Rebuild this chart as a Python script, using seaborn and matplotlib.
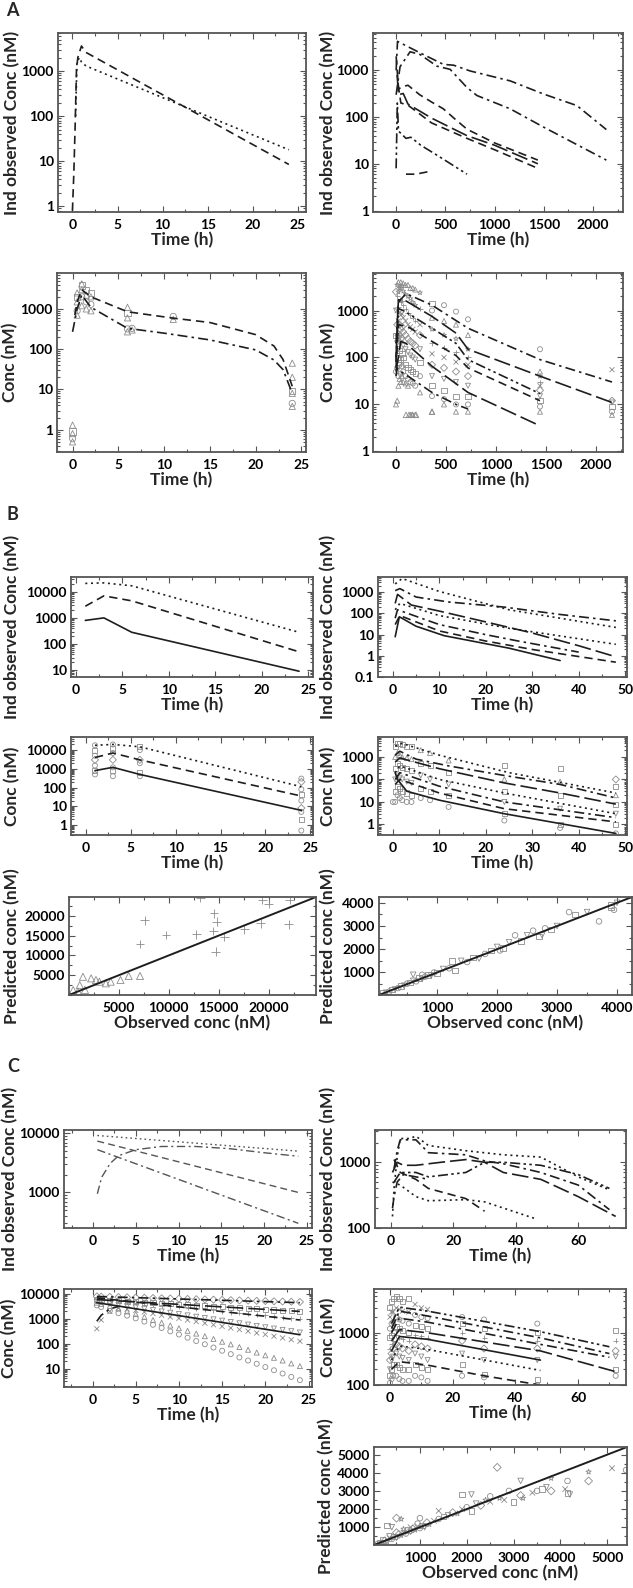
import warnings
import matplotlib
matplotlib.use("Agg")
import matplotlib.pyplot as plt
import matplotlib.ticker as mticker
from matplotlib.markers import MarkerStyle
import pandas as pd
import seaborn as sns

warnings.filterwarnings("ignore")

# ---------------- data ----------------
# Panel A, row 1: individual observed profiles
A1_LINES = [
    ([0, 0.15, 0.3, 0.45, 0.6, 1.0, 1.5, 24], [0.8, 5, 60, 1100, 2000, 3600, 2600, 8.5]),
    ([0.35, 0.5, 0.75, 1.0, 1.5, 24], [100, 1500, 2000, 1600, 1300, 18]),
]
A1_STYLES = ["dash", "dot"]

A2_LINES = [
    ([0, 14, 244, 481, 583, 752, 1159, 1498, 1837, 2136], [1000, 4170, 2360, 1340, 1290, 970, 595, 311, 176, 54]),
    ([0, 40, 142, 244, 414, 549, 719, 820, 1159, 1498, 2136], [300, 1200, 2500, 2180, 1230, 1050, 430, 290, 150, 61, 12]),
    ([0, 5, 24, 72, 120, 240, 360, 480, 600, 720, 1000, 1440], [2000, 1500, 400, 450, 480, 300, 210, 150, 90, 55, 28, 12]),
    ([10, 24, 72, 120, 360, 720, 1000, 1440], [800, 300, 320, 190, 95, 40, 25, 10]),
    ([20, 48, 120, 360, 720, 1000, 1440], [500, 200, 180, 75, 35, 20, 8]),
    ([0, 12, 24, 48, 100, 150, 250, 400, 720], [8, 200, 50, 45, 35, 37, 25, 16, 6]),
    ([100, 200, 360], [6, 6, 7]),
]
A2_STYLES = ["dashdot", "dashdot", "dash", "longdash", "dash", "dashdotdot", "dash"]

# Panel A, row 2: population fits with observations
A3_LINES = [
    ([0.25, 0.5, 1, 2, 6, 11, 15, 20, 22, 23, 24], [700, 1500, 3000, 2000, 850, 590, 460, 230, 120, 55, 12]),
    ([0, 0.5, 1, 2, 6, 10, 15, 20, 22, 23, 24], [270, 1000, 2200, 1100, 330, 250, 170, 96, 54, 31, 8]),
]
A3_STYLES = ["dash", "dashdot"]
A3_OBS = {
    0: [0.5, 0.6, 0.8, 0.9, 1.3],
    0.5: [700, 900, 1500, 2000, 2500],
    1: [1200, 2000, 3000, 3800, 4200],
    1.5: [1000, 1500, 2200, 3000],
    2: [900, 1300, 2000, 2500],
    6: [270, 320, 600, 800, 1100],
    6.5: [300, 330],
    11: [550, 650],
    24: [3.8, 4.5, 8, 9, 20, 45],
}

A4_LINES = [
    ([0, 24, 100, 360, 720, 1440, 2160], [200, 1500, 2300, 1300, 420, 90, 30]),
    ([0, 24, 100, 360, 600, 720, 1440, 2160], [100, 1700, 1600, 750, 330, 150, 40, 11]),
    ([0, 24, 72, 360, 600, 720, 1440], [80, 1100, 1000, 420, 200, 90, 17]),
    ([0, 24, 120, 360, 600, 720, 1440], [60, 500, 450, 220, 110, 60, 12]),
    ([0, 48, 100, 360, 720, 1440], [50, 220, 200, 65, 18, 3.5]),
    ([0, 12, 48, 120, 360, 600, 720], [40, 60, 50, 40, 18, 10, 8]),
]
A4_STYLES = ["dashdot", "longdash", "dashdotdot", "dash", "longdash", "dashdot"]
A4_OBS = {
    0: [10, 50, 300, 1000, 2500],
    12: [12, 60, 100, 200, 500, 1000, 2000, 3500],
    24: [25, 40, 80, 150, 300, 600, 1200, 2500, 4000],
    36: [35, 70, 140, 260, 500, 900, 1700, 3000],
    48: [30, 45, 90, 200, 400, 800, 1500, 3000, 4000],
    60: [40, 65, 120, 240, 450, 850, 1600, 3300],
    72: [30, 50, 100, 180, 350, 700, 1300, 2600, 3800],
    96: [28, 40, 70, 150, 300, 600, 1100, 2200, 3500],
    120: [25, 35, 60, 130, 250, 500, 900, 2000, 3500],
    144: [6, 30, 55, 110, 220, 450, 800, 1800, 3000],
    168: [6, 28, 50, 100, 200, 400, 700, 1500, 3000],
    192: [6, 25, 45, 90, 180, 350, 600, 1300, 2800],
    240: [18, 40, 80, 150, 300, 500, 1100, 2400],
    360: [7, 15, 25, 40, 70, 120, 200, 400, 700, 1000, 1400],
    480: [10, 13, 20, 35, 60, 100, 160, 300, 600, 1300],
    600: [7, 10, 15, 30, 50, 80, 130, 250, 500, 950],
    720: [7, 10, 15, 25, 40, 70, 100, 150, 300, 650],
    1440: [7, 9, 12, 15, 20, 25, 30, 40, 50, 150],
    2160: [6, 7, 9, 11, 12, 55],
}

# Panel B
B1_LINES = [
    ([1, 3, 6, 24], [21000, 22000, 17000, 280]),
    ([1, 3, 6, 24], [2800, 7000, 4500, 50]),
    ([1, 3, 6, 24], [800, 1000, 280, 9]),
]
B1_STYLES = ["dot", "dash", "solid"]

B2_LINES = [
    ([0.5, 2, 10, 25, 48], [2500, 4500, 1100, 150, 22]),
    ([0.5, 1.5, 5, 12, 24, 36, 48], [1200, 1500, 600, 350, 200, 90, 45]),
    ([0.5, 1, 4, 10, 20, 30, 40, 48], [300, 800, 250, 130, 40, 12, 3, 0.9]),
    ([0.5, 1.5, 10, 25, 48], [150, 300, 80, 20, 3.5]),
    ([0.5, 1, 10, 20, 27, 40], [60, 150, 30, 10, 5, 1.5]),
    ([0.5, 1.5, 10, 20, 30, 48], [30, 80, 15, 5, 2, 0.5]),
    ([0.5, 1.4, 5, 11, 25, 36], [8, 70, 25, 9, 2.3, 0.6]),
]
B2_STYLES = ["dot", "dashdot", "longdash", "dot", "dashdot", "dash", "solid"]

B3_LINES = [
    ([1, 3, 6, 24], [18000, 20000, 15000, 110]),
    ([1, 3, 6, 24], [4000, 7000, 3000, 35]),
    ([1, 3, 6, 24], [800, 1200, 500, 6]),
]
B3_STYLES = ["dot", "dash", "solid"]
B3_OBS = {
    1: [500, 800, 1500, 3000, 5000, 10000, 18000],
    3: [400, 800, 1200, 3000, 7000, 12000, 20000],
    6: [400, 600, 2000, 3000, 10000, 15000],
    24: [0.5, 2, 5, 8, 20, 40, 80, 200, 300],
}

B4_LINES = [
    ([0.5, 2, 10, 25, 48], [3000, 4000, 1200, 200, 25]),
    ([0.5, 1.5, 5, 12, 24, 36, 48], [1200, 1800, 800, 400, 150, 60, 15]),
    ([0.5, 1.5, 10, 24, 36, 48], [600, 900, 300, 70, 25, 8]),
    ([0.5, 1.5, 10, 24, 48], [200, 400, 100, 25, 3]),
    ([0.5, 1.5, 10, 24, 48], [100, 200, 50, 10, 2]),
    ([0.5, 1.5, 10, 24, 48], [60, 100, 25, 5, 1.3]),
    ([0.5, 1, 3, 10, 24, 48], [200, 100, 30, 12, 3, 0.4]),
]
B4_STYLES = ["dot", "dashdot", "longdash", "dot", "dashdot", "dash", "solid"]
B4_OBS = {
    0: [10],
    0.5: [10, 30, 100, 300, 1000, 3000],
    1: [20, 50, 150, 500, 1500, 4000],
    1.5: [15, 40, 120, 400, 1200, 4000],
    2: [12, 30, 100, 350, 1000, 3500],
    3: [10, 25, 80, 300, 900, 3000],
    4: [10, 20, 70, 250, 800, 3000],
    6: [15, 40, 150, 500, 2000],
    8: [12, 30, 100, 400, 1500],
    12: [6, 20, 60, 200, 700],
    24: [1.5, 3, 10, 30, 100, 400],
    36: [0.7, 1, 5, 20, 80, 300],
    48: [0.4, 1, 3, 8, 20, 50, 100],
}

B5_OBS_PLUS = [7600, 7120, 9730, 12770, 14530, 14800, 14470, 14700, 15550, 17570, 19200, 19370, 20000, 22000, 22100, 13160]
B5_PRED_PLUS = [18900, 12870, 15150, 15300, 20600, 18500, 16150, 10900, 14700, 16550, 18060, 24000, 23100, 17900, 24000, 24500]
B5_OBS_TRI = [1400, 2700, 4180, 5160, 5980, 7120, 1080, 420, 3040, 3700, 2220, 900, 1600]
B5_PRED_TRI = [4600, 3800, 3360, 3800, 4800, 4800, 2500, 1260, 3360, 2950, 4200, 900, 1300]
B5_IDENTITY = [0, 24750]

B6_OBS = [100, 150, 200, 250, 300, 350, 400, 450, 500, 550, 600, 650, 700, 750, 800, 850, 900, 950, 1000, 1100,
          1200, 1300, 1400, 1500, 1600, 1700, 1800, 1900, 2000, 2050, 2100, 2200, 2300, 2400, 2500, 2600, 2700,
          2750, 2800, 2900, 3000, 3200, 3300, 3500, 3700, 3900, 4000, 3950, 3900, 600, 750, 1250]
B6_PRED = [120, 130, 180, 260, 270, 330, 420, 430, 520, 560, 640, 620, 760, 720, 820, 900, 870, 1000, 980, 1150,
           1180, 1080, 1500, 1450, 1650, 1600, 1800, 1950, 2100, 1950, 2050, 2300, 2600, 2350, 2600, 2800, 2550,
           2600, 2900, 2850, 3000, 3600, 3500, 3600, 3200, 3900, 4000, 3700, 3800, 900, 900, 1500]
B6_IDENTITY = [30, 4250]

# Panel C
C1_LINES = [
    ([0.5, 24], [9200, 5000]),
    ([0.5, 1, 2, 3, 5, 8, 12, 16, 20, 24], [950, 1800, 3100, 4200, 5300, 6000, 6000, 5500, 4700, 4100]),
    ([0.5, 24], [7400, 1000]),
    ([0.5, 24], [5300, 300]),
]
C1_STYLES = ["dot", "dashdot", "dash", "dashdot"]

C2_LINES = [
    ([0.5, 1, 2, 3, 6, 8, 12, 24, 36, 48, 60, 70], [150, 400, 1200, 2300, 2300, 2500, 1800, 1500, 1300, 1200, 600, 380]),
    ([1, 2, 3, 8, 12, 24, 30, 36, 48, 60, 70], [800, 1500, 2200, 2200, 1400, 1300, 1050, 950, 700, 450, 190]),
    ([0.5, 2, 4, 8, 16, 24, 30, 36, 48, 60, 72], [700, 1000, 900, 900, 1000, 1100, 1000, 700, 550, 300, 150]),
    ([1, 3, 8, 12, 24, 30, 36, 48, 60, 70], [500, 700, 700, 600, 700, 1000, 1000, 900, 650, 400]),
    ([1, 3, 8, 12, 24, 30], [1100, 700, 550, 400, 280, 180]),
    ([0.5, 3, 8, 12, 24, 30, 46], [500, 450, 300, 260, 270, 250, 140]),
    ([0.5, 1, 2, 4, 8, 12], [200, 300, 500, 650, 600, 550]),
]
C2_STYLES = ["dot", "dashdot", "longdash", "dashdotdot", "dash", "dot", "dashdot"]

C3_T = [0.5, 1, 2, 3, 4, 5, 6, 7, 8, 9, 10, 11, 12, 13, 14, 15, 16, 17, 18, 19, 20, 21, 22, 23, 24]
C3_CIRCLE = [3500, 3000, 2100, 1700, 1350, 1050, 780, 580, 430, 315, 235, 175, 128, 95, 70, 52, 38, 28, 21, 15.5, 11.5, 8.5, 6.3, 4.6, 3.4]
C3_TRIANGLE = [4500, 4000, 3300, 2600, 2000, 1550, 1200, 900, 700, 540, 420, 330, 255, 200, 155, 120, 94, 73, 57, 44, 34, 27, 21, 16, 12.5]
C3_CROSS = [400, 900, 2000, 2700, 2500, 2200, 1900, 1650, 1400, 1200, 1050, 900, 780, 670, 580, 500, 430, 370, 320, 270, 235, 200, 170, 145, 125]
C3_DIAMOND = [8000, 7900, 7730, 7560, 7400, 7240, 7090, 6930, 6780, 6640, 6500, 6360, 6220, 6090, 5960, 5830, 5700, 5580, 5460, 5340, 5230, 5120, 5010, 4900, 4800]
C3_SQUARE = [6000, 5860, 5590, 5330, 5090, 4850, 4630, 4420, 4210, 4020, 3830, 3660, 3490, 3330, 3170, 3030, 2890, 2760, 2630, 2510, 2390, 2280, 2180, 2080, 1990]
C3_PLUS = [6500, 6250, 5770, 5320, 4910, 4540, 4190, 3870, 3570, 3290, 3040, 2810, 2590, 2390, 2210, 2040, 1880, 1740, 1600, 1480, 1370, 1260, 1160, 1075, 990]
C3_VEE = [5000, 4700, 4160, 3680, 3260, 2880, 2550, 2260, 2000, 1770, 1565, 1385, 1225, 1085, 960, 850, 750, 665, 590, 520, 460, 408, 361, 320, 283]
C3_LINES = [
    ([0.5, 24], [4500, 230]),
    ([0.5, 24], [7000, 900]),
    ([0.5, 24], [8000, 4500]),
    ([0.5, 1, 2, 3], [800, 1400, 2500, 3200]),
    ([0.5, 24], [6000, 2000]),
]
C3_STYLES = ["solid", "dash", "dashdot", "dashdot", "longdash"]

C4_LINES = [
    ([0.5, 3, 12, 48, 70], [1500, 3100, 2600, 1050, 540]),
    ([0.5, 3, 12, 48, 70], [1200, 2600, 2100, 800, 400]),
    ([0.5, 3, 12, 48, 70], [1000, 1900, 1600, 600, 340]),
    ([0.5, 3, 12, 48, 72], [700, 1150, 1000, 450, 180]),
    ([0.5, 3, 12, 48], [450, 850, 750, 300]),
    ([0.5, 3, 12, 48], [300, 560, 480, 190]),
    ([0.5, 3, 12, 30, 48], [200, 280, 240, 150, 100]),
]
C4_STYLES = ["dashdotdot", "dashdot", "dashdot", "longdash", "solid", "dot", "dash"]
C4_OBS = {
    0: [110, 150, 200, 300, 500, 800, 1200, 2000, 3000],
    0.5: [130, 200, 300, 400, 600, 900, 1500, 2500, 4000],
    1: [150, 250, 350, 500, 700, 1000, 1600, 2500, 4500],
    2: [150, 250, 400, 600, 900, 1300, 2000, 3000, 5000],
    3: [130, 220, 350, 550, 800, 1200, 1800, 2800, 4500],
    4: [120, 200, 330, 500, 750, 1100, 1700, 2600, 4000],
    6: [120, 200, 300, 450, 700, 1000, 1500, 2500, 4500],
    8: [150, 250, 400, 600, 900, 1400, 2200, 3500],
    10: [140, 220, 350, 550, 850, 1300, 2000, 3000],
    12: [120, 200, 300, 500, 800, 1200, 1900, 2800],
    23: [150, 250, 400, 700, 1000, 1500, 2000],
    30: [140, 160, 300, 500, 800, 1200, 1800],
    47: [100, 130, 300, 500, 700, 1000, 1500],
    72: [150, 200, 350, 450, 700, 1100],
}

C5_OBS = [100, 150, 200, 250, 300, 350, 400, 450, 500, 550, 600, 650, 700, 750, 800, 850, 900, 950, 1000, 1050,
          1100, 1150, 1200, 1300, 1400, 1500, 1600, 1700, 1800, 1900, 2000, 2100, 2200, 2300, 2400, 2500, 2500,
          300, 400, 500, 600, 1400, 1000, 1900, 2100, 2650, 2700, 2800, 2900, 3000, 3150, 3150, 3200, 3400, 3500,
          3600, 3700, 3800, 3800, 4100, 4150, 4150, 4200, 4600, 4600, 5100, 5400, 200, 350, 500, 650, 800, 950]
C5_PRED = [80, 150, 120, 250, 200, 400, 350, 500, 420, 600, 550, 700, 650, 850, 750, 900, 850, 1050, 950, 1100,
           1000, 1250, 1150, 1350, 1450, 1600, 1650, 1800, 1750, 2000, 2100, 1900, 2300, 2200, 2500, 2400, 2700,
           1100, 1000, 1500, 1450, 1900, 1500, 2800, 2800, 4300, 2600, 2500, 3000, 2400, 3550, 2750, 2600, 2900, 3000,
           3100, 3200, 3000, 3700, 3100, 3550, 2900, 2800, 3550, 4050, 4250, 4150, 300, 500, 700, 900, 1000, 1200]
C5_IDENTITY = [20, 5420]

# ---------------- styling ----------------
sns.set_style("ticks")
plt.rcParams["font.family"] = ["Lato", "DejaVu Sans"]
plt.rcParams["font.weight"] = "bold"
plt.rcParams["axes.labelweight"] = "bold"

LS = {
    "solid": "-",
    "dash": (0, (5, 3)),
    "dot": (0, (1.2, 2.2)),
    "dashdot": (0, (6, 2.5, 1.5, 2.5)),
    "dashdotdot": (0, (6, 2, 1.5, 2, 1.5, 2)),
    "longdash": (0, (10, 3)),
}
LINE_COLOR = "#1e1e1e"
GRAY = "#8c8c8c"
FRAME = "#555555"
MARKERS = ["^", "o", "s", "v", "D", "x", "+", "*"]
TICK_SIZE = 10
LABEL_SIZE = 12.5

W, H = 633, 1588
fig = plt.figure(figsize=(W / 100, H / 100), dpi=100)


def new_ax(l, r, t, b):
    return fig.add_axes([l / W, 1 - b / H, (r - l) / W, (b - t) / H])


def draw_lines(ax, lines, styles, color=LINE_COLOR, lw=1.2):
    for (t, c), st in zip(lines, styles):
        sns.lineplot(x=t, y=c, ax=ax, color=color, lw=lw, linestyle=LS[st],
                     sort=False, estimator=None)


def draw_obs(ax, groups, markers=MARKERS, size=13):
    rows = []
    for t, vals in groups.items():
        for i, v in enumerate(vals):
            rows.append((t, v, markers[i % len(markers)]))
    df = pd.DataFrame(rows, columns=["t", "c", "m"])
    for m, sub in df.groupby("m"):
        sns.scatterplot(data=sub, x="t", y="c", ax=ax, color=GRAY, s=size, linewidth=0.6,
                        marker=MarkerStyle(m, fillstyle="none"))


def draw_points(ax, x, y, marker, size=16):
    sns.scatterplot(x=x, y=y, ax=ax, color=GRAY, s=size, linewidth=0.6,
                    marker=MarkerStyle(marker, fillstyle="none"))


def finish(ax, xlim, ylim, xticks, yticks, xlabel, ylabel, label_x, ylog=True):
    if ylog:
        ax.set_yscale("log")
    ax.set_xlim(xlim)
    ax.set_ylim(ylim)
    ax.set_xticks(xticks)
    ax.set_xticklabels([f"{v:g}" for v in xticks])
    ax.set_yticks(yticks)
    ax.set_yticklabels([f"{v:g}" for v in yticks])
    if ylog:
        ax.yaxis.set_minor_locator(mticker.LogLocator(base=10, subs=range(2, 10), numticks=20))
    else:
        ax.yaxis.set_minor_locator(mticker.AutoMinorLocator(2))
    ax.yaxis.set_minor_formatter(mticker.NullFormatter())
    ax.xaxis.set_minor_locator(mticker.AutoMinorLocator(2))
    ax.tick_params(which="both", direction="in", top=True, right=True, colors=FRAME,
                   labelcolor="black", labelsize=TICK_SIZE, width=0.8)
    ax.tick_params(which="major", length=4, pad=3)
    ax.tick_params(axis="x", which="major", pad=5)
    ax.tick_params(which="minor", length=2)
    for lab in ax.get_xticklabels() + ax.get_yticklabels():
        lab.set_fontweight("bold")
    for sp in ax.spines.values():
        sp.set_color(FRAME)
        sp.set_linewidth(1.3)
    ax.set_xlabel(xlabel, fontsize=LABEL_SIZE, fontweight="bold", labelpad=1)
    ax.set_ylabel(ylabel, fontsize=LABEL_SIZE, fontweight="bold")
    # y label placed at a fixed pixel column (right edge of the rotated text)
    pos = ax.get_position()
    left_px, width_px = pos.x0 * W, pos.width * W
    ax.yaxis.set_label_coords((label_x - left_px) / width_px, 0.5)


IND = "Ind observed Conc (nM)"
CONC = "Conc (nM)"
TIME = "Time (h)"
PRED = "Predicted conc (nM)"
OBS = "Observed conc (nM)"
LX_LEFT = 20
LX_RIGHT = 336

# ---------------- Panel A ----------------
ax = new_ax(58, 306, 33, 212)
ax.set_yscale("log")
draw_lines(ax, A1_LINES, A1_STYLES)
finish(ax, (-1.6, 25.9), (0.75, 7000), [0, 5, 10, 15, 20, 25], [1, 10, 100, 1000], TIME, IND, LX_LEFT)

ax = new_ax(373, 623, 33, 212)
ax.set_yscale("log")
draw_lines(ax, A2_LINES, A2_STYLES)
finish(ax, (-235, 2305), (0.93, 6300), [0, 500, 1000, 1500, 2000], [1, 10, 100, 1000], TIME, IND, LX_RIGHT)

ax = new_ax(57, 306, 273, 452)
ax.set_yscale("log")
draw_obs(ax, A3_OBS, markers=["^", "o", "^", "s", "^"], size=20)
draw_lines(ax, A3_LINES, A3_STYLES)
finish(ax, (-1.7, 25.5), (0.28, 7800), [0, 5, 10, 15, 20, 25], [1, 10, 100, 1000], TIME, CONC, LX_LEFT - 2)

ax = new_ax(373, 623, 273, 452)
ax.set_yscale("log")
draw_obs(ax, A4_OBS)
draw_points(ax, [100, 130, 160, 200, 360], [6, 6, 6, 6, 7], "^")
draw_lines(ax, A4_LINES, A4_STYLES)
finish(ax, (-230, 2270), (0.97, 6300), [0, 500, 1000, 1500, 2000], [1, 10, 100, 1000], TIME, CONC, LX_RIGHT)

# ---------------- Panel B ----------------
ax = new_ax(71, 313, 577, 677)
ax.set_yscale("log")
draw_lines(ax, B1_LINES, B1_STYLES)
finish(ax, (-0.54, 25.5), (5.4, 37000), [0, 5, 10, 15, 20, 25], [10, 100, 1000, 10000], TIME, IND, LX_LEFT)

ax = new_ax(378, 627, 577, 677)
ax.set_yscale("log")
draw_lines(ax, B2_LINES, B2_STYLES)
finish(ax, (-3.2, 50.4), (0.1, 5300), [0, 10, 20, 30, 40, 50], [0.1, 1, 10, 100, 1000], TIME, IND, LX_RIGHT)

ax = new_ax(71, 313, 737, 835)
ax.set_yscale("log")
draw_obs(ax, B3_OBS, markers=["o", "s", "o", "D"])
draw_lines(ax, B3_LINES, B3_STYLES)
finish(ax, (-1.67, 25.3), (0.29, 50000), [0, 5, 10, 15, 20, 25], [1, 10, 100, 1000, 10000], TIME, CONC, LX_LEFT)

ax = new_ax(378, 627, 737, 835)
ax.set_yscale("log")
draw_obs(ax, B4_OBS, markers=["o", "s", "v", "s", "^", "s", "D"])
draw_lines(ax, B4_LINES, B4_STYLES)
finish(ax, (-3.2, 50.4), (0.34, 7700), [0, 10, 20, 30, 40, 50], [1, 10, 100, 1000], TIME, CONC, LX_RIGHT)

ax = new_ax(69, 316, 897, 995)
draw_points(ax, B5_OBS_PLUS, B5_PRED_PLUS, "+", size=40)
draw_points(ax, B5_OBS_TRI, B5_PRED_TRI, "^", size=26)
sns.lineplot(x=B5_IDENTITY, y=B5_IDENTITY, ax=ax, color=LINE_COLOR, lw=1.4)
finish(ax, tuple(B5_IDENTITY), tuple(B5_IDENTITY), [5000, 10000, 15000, 20000],
       [5000, 10000, 15000, 20000], OBS, PRED, LX_LEFT, ylog=False)

ax = new_ax(379, 632, 897, 995)
draw_points(ax, B6_OBS[0::3], B6_PRED[0::3], "s")
draw_points(ax, B6_OBS[1::3], B6_PRED[1::3], "v")
draw_points(ax, B6_OBS[2::3], B6_PRED[2::3], "o")
sns.lineplot(x=B6_IDENTITY, y=B6_IDENTITY, ax=ax, color=LINE_COLOR, lw=1.4)
finish(ax, tuple(B6_IDENTITY), tuple(B6_IDENTITY), [1000, 2000, 3000, 4000],
       [1000, 2000, 3000, 4000], OBS, PRED, LX_RIGHT, ylog=False)

# ---------------- Panel C ----------------
ax = new_ax(64, 312, 1130, 1228)
ax.set_yscale("log")
draw_lines(ax, C1_LINES, C1_STYLES, color="#555555", lw=1.0)
finish(ax, (-3.4, 25.6), (250, 11400), [0, 5, 10, 15, 20, 25], [1000, 10000], TIME, IND, LX_LEFT - 2)

ax = new_ax(375, 626, 1130, 1228)
ax.set_yscale("log")
draw_lines(ax, C2_LINES, C2_STYLES)
finish(ax, (-5.1, 75.3), (100, 3100), [0, 20, 40, 60], [100, 1000], TIME, IND, LX_RIGHT)

ax = new_ax(64, 312, 1289, 1387)
ax.set_yscale("log")
for vals, mk in [(C3_CIRCLE, "o"), (C3_TRIANGLE, "^"), (C3_CROSS, "x"), (C3_DIAMOND, "D"),
                 (C3_SQUARE, "s"), (C3_PLUS, "+"), (C3_VEE, "v")]:
    draw_points(ax, C3_T, vals, mk, size=13)
draw_lines(ax, C3_LINES, C3_STYLES)
finish(ax, (-3.3, 25.4), (1.8, 16000), [0, 5, 10, 15, 20, 25], [10, 100, 1000, 10000], TIME, CONC, LX_LEFT - 3)

ax = new_ax(374, 626, 1289, 1385)
ax.set_yscale("log")
draw_obs(ax, C4_OBS, markers=["o", "s", "v", "D", "+", "s", "o", "x", "s"])
draw_lines(ax, C4_LINES, C4_STYLES)
finish(ax, (-5.1, 75.3), (100, 6900), [0, 20, 40, 60], [100, 1000], TIME, CONC, LX_RIGHT)

ax = new_ax(374, 627, 1447, 1545)
for k, mk in enumerate(["o", "s", "v", "D", "*", "x"]):
    draw_points(ax, C5_OBS[k::6], C5_PRED[k::6], mk)
sns.lineplot(x=C5_IDENTITY, y=C5_IDENTITY, ax=ax, color=LINE_COLOR, lw=1.4)
finish(ax, tuple(C5_IDENTITY), tuple(C5_IDENTITY), [1000, 2000, 3000, 4000, 5000],
       [1000, 2000, 3000, 4000, 5000], OBS, PRED, LX_RIGHT - 2, ylog=False)

# panel letters
for letter, x, y in [("A", 12, 11), ("B", 12, 515), ("C", 13, 1067)]:
    fig.text(x / W, 1 - y / H, letter, fontsize=13, fontweight="bold", ha="center", va="center")

fig.savefig("out.png", dpi=100)
